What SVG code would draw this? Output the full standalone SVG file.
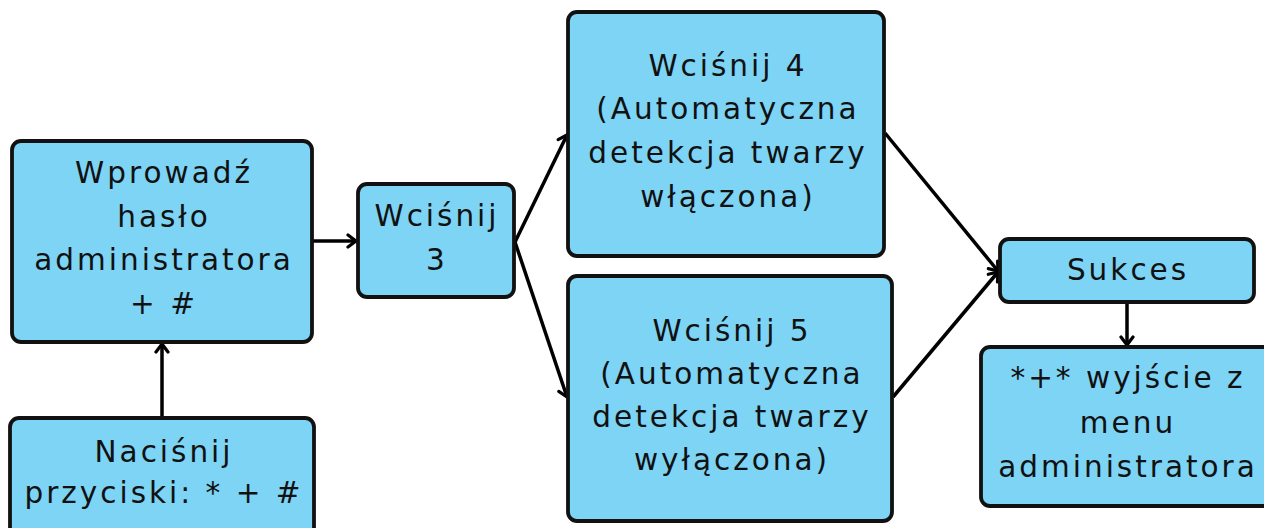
<svg xmlns="http://www.w3.org/2000/svg" width="1264" height="528" viewBox="0 0 1264 528">
<style>
.box{fill:#7dd4f5;stroke:#111;stroke-width:3.8}
.t{font-family:"DejaVu Sans",sans-serif;font-size:29.5px;letter-spacing:3px;fill:#111;text-anchor:middle}
.c{stroke:#000;stroke-width:3.5;fill:none}
</style>
<defs>
<marker id="ah" viewBox="0 0 16 16" refX="13" refY="8" markerWidth="16" markerHeight="16" markerUnits="userSpaceOnUse" orient="auto">
<path d="M5,2 L13,8 L5,14" fill="none" stroke="#000" stroke-width="3.2" stroke-linecap="round" stroke-linejoin="round"/>
</marker>
</defs>
<rect width="1264" height="528" fill="#fff"/>
<g id="connectors">
<line class="c" x1="313" y1="241" x2="356" y2="241" marker-end="url(#ah)"/>
<line class="c" x1="162" y1="418" x2="162" y2="344" marker-end="url(#ah)"/>
<line class="c" x1="515" y1="242" x2="567" y2="135" marker-end="url(#ah)"/>
<line class="c" x1="515" y1="242" x2="567" y2="397" marker-end="url(#ah)"/>
<line class="c" x1="885" y1="133" x2="998" y2="271" marker-end="url(#ah)"/>
<line class="c" x1="893" y1="397" x2="998" y2="272" marker-end="url(#ah)"/>
<line class="c" x1="1127" y1="303" x2="1127" y2="345" marker-end="url(#ah)"/>
</g>
<g id="n1">
<rect class="box" x="12" y="141" width="300" height="201" rx="9"/>
<text class="t" x="164" y="183">Wprowadź</text>
<text class="t" x="164" y="227">hasło</text>
<text class="t" x="164" y="270">administratora</text>
<text class="t" x="164" y="314">+ #</text>
</g>
<g id="n2">
<rect class="box" x="10" y="418" width="304" height="120" rx="9"/>
<text class="t" x="164" y="462">Naciśnij</text>
<text class="t" x="164" y="503">przyciski: * + #</text>
</g>
<g id="n3">
<rect class="box" x="358" y="184" width="156" height="113" rx="9"/>
<text class="t" x="437" y="226">Wciśnij</text>
<text class="t" x="437" y="270">3</text>
</g>
<g id="n4">
<rect class="box" x="568" y="12" width="316" height="244" rx="9"/>
<text class="t" x="728" y="76">Wciśnij 4</text>
<text class="t" x="728" y="119">(Automatyczna</text>
<text class="t" x="728" y="163">detekcja twarzy</text>
<text class="t" x="728" y="207">włączona)</text>
</g>
<g id="n5">
<rect class="box" x="568" y="276" width="324" height="245" rx="9"/>
<text class="t" x="732" y="341">Wciśnij 5</text>
<text class="t" x="732" y="384">(Automatyczna</text>
<text class="t" x="732" y="427">detekcja twarzy</text>
<text class="t" x="732" y="470">wyłączona)</text>
</g>
<g id="n6">
<rect class="box" x="1000" y="239" width="254" height="63" rx="9"/>
<text class="t" x="1128" y="280">Sukces</text>
</g>
<g id="n7">
<rect class="box" x="981" y="347" width="300" height="159" rx="9"/>
<text class="t" x="1128" y="388">*+* wyjście z</text>
<text class="t" x="1128" y="433">menu</text>
<text class="t" x="1128" y="477">administratora</text>
</g>
</svg>
